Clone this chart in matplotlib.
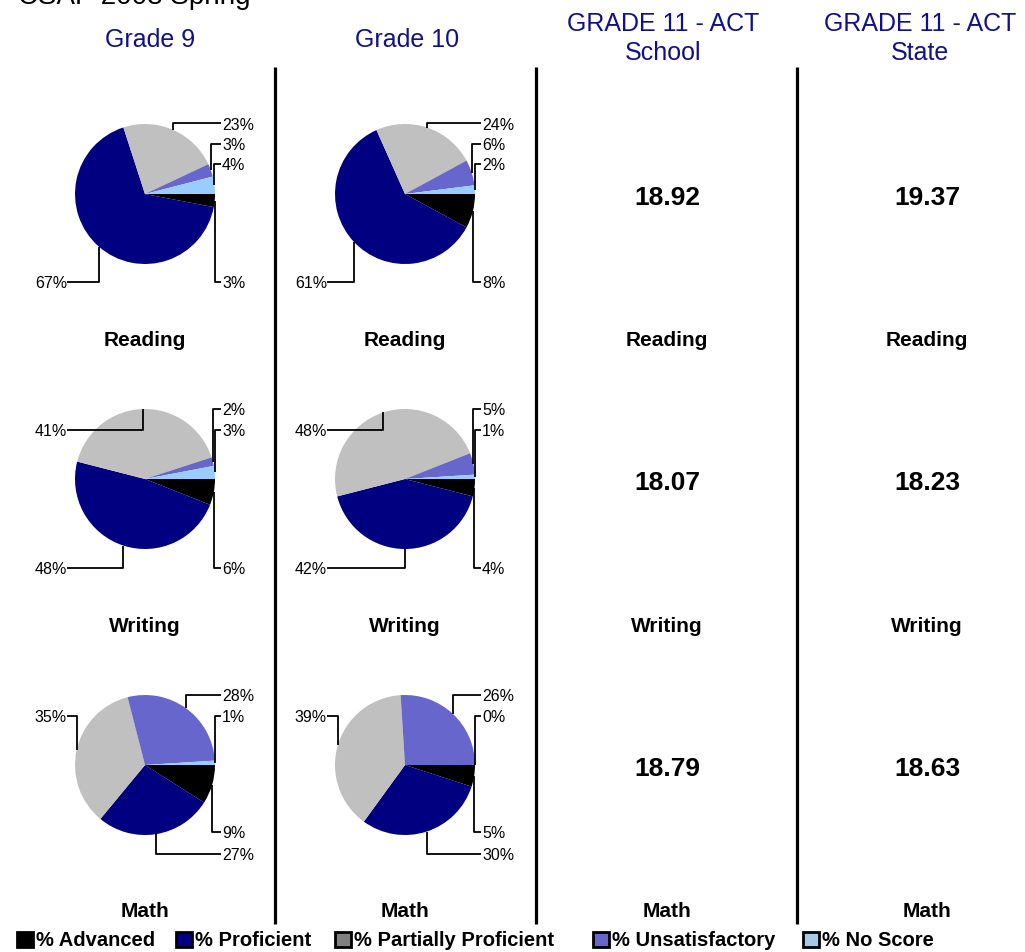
import numpy as np
import matplotlib
matplotlib.use("Agg")
import matplotlib.pyplot as plt
from matplotlib.patches import Rectangle

# data
categories = ['% Advanced', '% Proficient', '% Partially Proficient', '% Unsatisfactory', '% No Score']
subjects = ['Reading', 'Writing', 'Math']
grade9_reading = [3, 67, 23, 3, 4]
grade10_reading = [8, 61, 24, 6, 2]
grade9_writing = [6, 48, 41, 2, 3]
grade10_writing = [4, 42, 48, 5, 1]
grade9_math = [9, 27, 35, 28, 1]
grade10_math = [5, 30, 39, 26, 0]
act_school = [18.92, 18.07, 18.79]
act_state = [19.37, 18.23, 18.63]

pie_colors = ['#000000', '#000080', '#C0C0C0', '#6666CC', '#99CCFF']
legend_colors = ['#000000', '#000080', '#808080', '#6666CC', '#A6CAE6']
head_color = '#10108A'

BOLD = ['Liberation Sans Narrow', 'Liberation Sans', 'DejaVu Sans']
REG = ['Liberation Sans', 'DejaVu Sans']

W, H = 1025, 953
fig = plt.figure(figsize=(W / 100, H / 100), dpi=100)
ax = fig.add_axes([0, 0, 1, 1])

col_x = [145, 405, 667, 927]
row_y = [195, 480, 766]
R = 70

# label slots (side, dy) for each wedge, per subject row
slots = {
    'Reading': [('R', 88), ('L', 88), ('R', -71), ('R', -50), ('R', -30)],
    'Writing': [('R', 89), ('L', 89), ('L', -49), ('R', -70), ('R', -49)],
    'Math':    [('R', 67), ('R', 89), ('L', -49), ('R', -70), ('R', -49)],
}

pies = {
    (0, 'Reading'): grade9_reading, (1, 'Reading'): grade10_reading,
    (0, 'Writing'): grade9_writing, (1, 'Writing'): grade10_writing,
    (0, 'Math'): grade9_math, (1, 'Math'): grade10_math,
}

for (ci, subj), vals in pies.items():
    cx = col_x[ci]
    cy = row_y[subjects.index(subj)]
    ax.pie(vals, colors=pie_colors, startangle=0, counterclock=True,
           center=(cx, cy), radius=R, wedgeprops=dict(linewidth=0))
    tot = float(sum(vals))
    cum = np.cumsum([0] + list(vals))
    for k, v in enumerate(vals):
        mid = np.deg2rad(360 * (cum[k] + v / 2) / tot)
        px, py = cx + R * np.cos(mid), cy + R * np.sin(mid)
        side, dy = slots[subj][k]
        ly = cy + dy
        if side == 'R':
            lx = cx + 76
            ax.plot([px, px, lx], [py, ly, ly], color='black', lw=1.3, solid_capstyle='butt')
            ax.text(lx + 1, ly + 1, f'{v}%', ha='left', va='center', fontsize=11.5, family=REG)
        else:
            lx = cx - 78
            ax.plot([px, px, lx], [py, ly, ly], color='black', lw=1.3, solid_capstyle='butt')
            ax.text(lx, ly + 1, f'{v}%', ha='right', va='center', fontsize=11.5, family=REG)

# ACT scores
for i in range(3):
    ax.text(col_x[2], row_y[i] + 3, f'{act_school[i]:.2f}', ha='center', va='center',
            fontsize=19, fontweight='bold', family=BOLD)
    ax.text(col_x[3], row_y[i] + 3, f'{act_state[i]:.2f}', ha='center', va='center',
            fontsize=19, fontweight='bold', family=BOLD)

# subject labels
sub_y = [341, 627, 912]
for i, s in enumerate(subjects):
    for x in col_x:
        ax.text(x, sub_y[i], s, ha='center', va='center', fontsize=15,
                fontweight='bold', family=BOLD)

# column separators
for x in [275, 536, 797]:
    ax.plot([x, x], [68, 925], color='black', lw=2.3, solid_capstyle='butt')

# headers
ax.text(18, 4, 'CSAP 2008 Spring', ha='left', va='baseline', fontsize=20, family=REG)
ax.text(150, 40, 'Grade 9', ha='center', va='center', fontsize=18, color=head_color, family=REG)
ax.text(407, 40, 'Grade 10', ha='center', va='center', fontsize=18, color=head_color, family=REG)
ax.text(663, 24, 'GRADE 11 - ACT', ha='center', va='center', fontsize=18, color=head_color, family=REG)
ax.text(663, 53, 'School', ha='center', va='center', fontsize=18, color=head_color, family=REG)
ax.text(920, 24, 'GRADE 11 - ACT', ha='center', va='center', fontsize=18, color=head_color, family=REG)
ax.text(920, 53, 'State', ha='center', va='center', fontsize=18, color=head_color, family=REG)

# legend
leg_x = [17, 176, 335, 593, 803]
for x, lab, c in zip(leg_x, categories, legend_colors):
    ax.add_patch(Rectangle((x, 933), 16, 15, facecolor=c, edgecolor='black', lw=2))
    ax.text(x + 19, 941, lab, ha='left', va='center', fontsize=14.5,
            fontweight='bold', family=BOLD)

ax.set_xlim(0, W)
ax.set_ylim(H, 0)
ax.set_aspect('auto')
ax.axis('off')

fig.savefig('out.png', dpi=100)
